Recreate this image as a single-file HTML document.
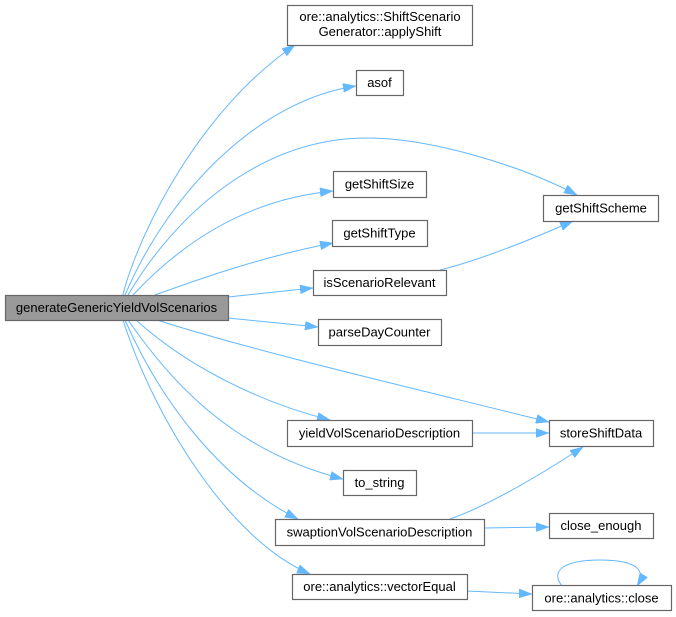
<!DOCTYPE html>
<html>
<head>
<meta charset="utf-8">
<style>
html,body{margin:0;padding:0;background:#fff;}
svg{display:block;}
text{font-family:"Liberation Sans",Arial,sans-serif;font-size:13px;fill:#000;}
</style>
</head>
<body>
<svg width="676" height="617" viewBox="0 0 676 617" xmlns="http://www.w3.org/2000/svg">
<defs>
<marker id="ah" viewBox="0 0 13 9" refX="13" refY="4.5" markerWidth="13" markerHeight="9" markerUnits="userSpaceOnUse" orient="auto">
<path d="M0,0 L13,4.5 L0,9 z" fill="#63b8ff" stroke="#63b8ff" stroke-width="0.5"/>
</marker>
</defs>
<g fill="none" stroke="#63b8ff" stroke-width="1" marker-end="url(#ah)">
<path d="M122.7,295 C140,230 200,110 295,45"/>
<path d="M125,295 C170,190 260,100 356,86"/>
<path d="M128,295 C175,215 260,138 367,138 C430,138 520,165 577,195"/>
<path d="M133,295 C175,250 240,200 333,191"/>
<path d="M155,295 C210,275 270,255 333,243"/>
<path d="M228,297 L313,288"/>
<path d="M228,318 L318,327"/>
<path d="M157,320 C250,350 400,385 549,422"/>
<path d="M136,320 C180,360 250,400 330,420"/>
<path d="M128,320 C170,380 230,450 343,479"/>
<path d="M125,320 C160,400 220,480 298,519"/>
<path d="M123,320 C155,420 230,540 310,574"/>
<path d="M440,270 C480,260 530,240 573,221"/>
<path d="M472,433 L549,433"/>
<path d="M450,519 C490,505 540,475 583,447"/>
<path d="M484,528 L549,527"/>
<path d="M467,591 L532,594"/>
<path d="M562,586 C548,568 570,560 600,560 C625,560 650,565 637,586"/>
</g>
<g stroke="#666666" stroke-width="1.2" fill="#ffffff">
<rect x="287.5" y="5.5" width="185" height="40"/>
<rect x="356.5" y="70.5" width="47" height="25"/>
<rect x="333.5" y="171.5" width="93" height="26"/>
<rect x="543.5" y="195.5" width="115" height="26"/>
<rect x="332.5" y="220.5" width="95" height="26"/>
<rect x="313.5" y="270.5" width="133" height="25"/>
<rect x="5.5" y="295.5" width="223" height="25" fill="#999999"/>
<rect x="318.5" y="319.5" width="123" height="26"/>
<rect x="287.5" y="420.5" width="185" height="26"/>
<rect x="549.5" y="420.5" width="104" height="26"/>
<rect x="343.5" y="470.5" width="73" height="25"/>
<rect x="549.5" y="513.5" width="104" height="25"/>
<rect x="275.5" y="519.5" width="209" height="26"/>
<rect x="292.5" y="574.5" width="175" height="25"/>
<rect x="532.5" y="585.5" width="139" height="25"/>
</g>
<g text-anchor="middle">
<text x="380" y="21">ore::analytics::ShiftScenario</text>
<text x="380" y="36">Generator::applyShift</text>
<text x="379.5" y="87">asof</text>
<text x="379.5" y="188.5">getShiftSize</text>
<text x="601" y="212.5">getShiftScheme</text>
<text x="379.5" y="237.5">getShiftType</text>
<text x="379.5" y="287">isScenarioRelevant</text>
<text x="116.5" y="312">generateGenericYieldVolScenarios</text>
<text x="379.5" y="336.5">parseDayCounter</text>
<text x="379.5" y="437.5">yieldVolScenarioDescription</text>
<text x="601" y="437.5">storeShiftData</text>
<text x="379.5" y="487">to_string</text>
<text x="601" y="530">close_enough</text>
<text x="379.5" y="536.5">swaptionVolScenarioDescription</text>
<text x="379.5" y="591">ore::analytics::vectorEqual</text>
<text x="601.5" y="602.5">ore::analytics::close</text>
</g>
</svg>
</body>
</html>
